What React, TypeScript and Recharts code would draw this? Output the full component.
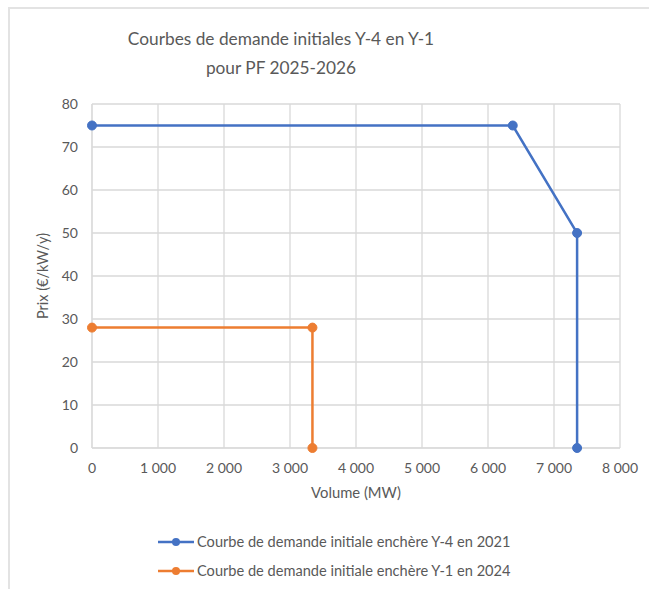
import { LineChart, Line, XAxis, YAxis, CartesianGrid } from 'recharts'

interface Point {
  volume: number
  prix: number
}

const titleLines = ['Courbes de demande initiales Y-4 en Y-1', 'pour PF 2025-2026']

const seriesNames = [
  'Courbe de demande initiale enchère Y-4 en 2021',
  'Courbe de demande initiale enchère Y-1 en 2024',
]

const y4Volumes = [0, 6375, 7350, 7350]
const y4Prix = [75, 75, 50, 0]

const y1Volumes = [0, 3340, 3340]
const y1Prix = [28, 28, 0]

const xTicks = [0, 1000, 2000, 3000, 4000, 5000, 6000, 7000, 8000]
const yTicks = [0, 10, 20, 30, 40, 50, 60, 70, 80]

const colors = ['#4472C4', '#ED7D31']

const toPoints = (xs: number[], ys: number[]): Point[] =>
  xs.map((v, i) => ({ volume: v, prix: ys[i] }))

const y4Data = toPoints(y4Volumes, y4Prix)
const y1Data = toPoints(y1Volumes, y1Prix)

const FONT = 'Lato, "Open Sans", sans-serif'
const TEXT = '#595959'
const GRID = '#d9d9d9'

const formatThousands = (v: number) =>
  v >= 1000 ? `${Math.floor(v / 1000)}\u00a0${String(v % 1000).padStart(3, '0')}` : String(v)

// Legend rendered as two stacked rows under the plot
function LegendRows() {
  return (
    <div style={{ fontFamily: FONT, fontSize: 14.6, color: TEXT }}>
      {seriesNames.map((name, i) => (
        <div key={name} style={{ display: 'flex', alignItems: 'center', height: 29 }}>
          <svg width={38} height={10} style={{ marginRight: 2 }}>
            <line x1={1} y1={5} x2={37} y2={5} stroke={colors[i]} strokeWidth={2.5} />
            <circle cx={19} cy={5} r={4} fill={colors[i]} />
          </svg>
          <span>{name}</span>
        </div>
      ))}
    </div>
  )
}

export default function App() {
  return (
    <div style={{ position: 'relative', width: 649, height: 589, background: '#fff', overflow: 'hidden' }}>
      <style>{'body{margin:0}'}</style>
      <div
        style={{
          position: 'absolute',
          left: 8,
          top: 7,
          width: 700,
          height: 700,
          borderTop: '2px solid #e3e3e3',
          borderLeft: '2px solid #e3e3e3',
        }}
      />
      <div
        style={{
          position: 'absolute',
          left: 81,
          top: 24,
          width: 400,
          textAlign: 'center',
          fontFamily: FONT,
          fontSize: 17.3,
          lineHeight: '29px',
          color: TEXT,
        }}
      >
        {titleLines.map((t) => (
          <div key={t}>{t}</div>
        ))}
      </div>
      <div
        style={{
          position: 'absolute',
          left: 42,
          top: 276,
          transform: 'translate(-50%, -50%) rotate(-90deg)',
          whiteSpace: 'nowrap',
          fontFamily: FONT,
          fontSize: 14.5,
          color: TEXT,
        }}
      >
        Prix (€/kW/y)
      </div>
      <div style={{ position: 'absolute', left: 0, top: 0 }}>
        <LineChart width={649} height={589} margin={{ top: 104, right: 29, bottom: 86, left: 32 }}>
          <CartesianGrid stroke={GRID} strokeWidth={1.3} />
          <XAxis
            type="number"
            dataKey="volume"
            domain={[0, 8000]}
            ticks={xTicks}
            tickFormatter={formatThousands}
            axisLine={{ stroke: GRID }}
            tickLine={false}
            tickMargin={9}
            height={55}
            tick={{ fill: TEXT, fontSize: 14, fontFamily: FONT }}
            label={{ value: 'Volume (MW)', position: 'insideBottom', offset: 5, fill: TEXT, fontSize: 14.8, fontFamily: FONT }}
          />
          <YAxis
            type="number"
            dataKey="prix"
            domain={[0, 80]}
            ticks={yTicks}
            axisLine={{ stroke: GRID }}
            tickLine={false}
            tickMargin={8}
            width={60}
            tick={{ fill: TEXT, fontSize: 14, fontFamily: FONT }}
          />
          <Line
            data={y4Data}
            dataKey="prix"
            name={seriesNames[0]}
            stroke={colors[0]}
            strokeWidth={2.5}
            dot={{ r: 4.5, fill: colors[0], stroke: colors[0], strokeWidth: 1 }}
            type="linear"
            isAnimationActive={false}
          />
          <Line
            data={y1Data}
            dataKey="prix"
            name={seriesNames[1]}
            stroke={colors[1]}
            strokeWidth={2.5}
            dot={{ r: 4.5, fill: colors[1], stroke: colors[1], strokeWidth: 1 }}
            type="linear"
            isAnimationActive={false}
          />
        </LineChart>
      </div>
      <div style={{ position: 'absolute', left: 157, top: 527 }}>
        <LegendRows />
      </div>
    </div>
  )
}
